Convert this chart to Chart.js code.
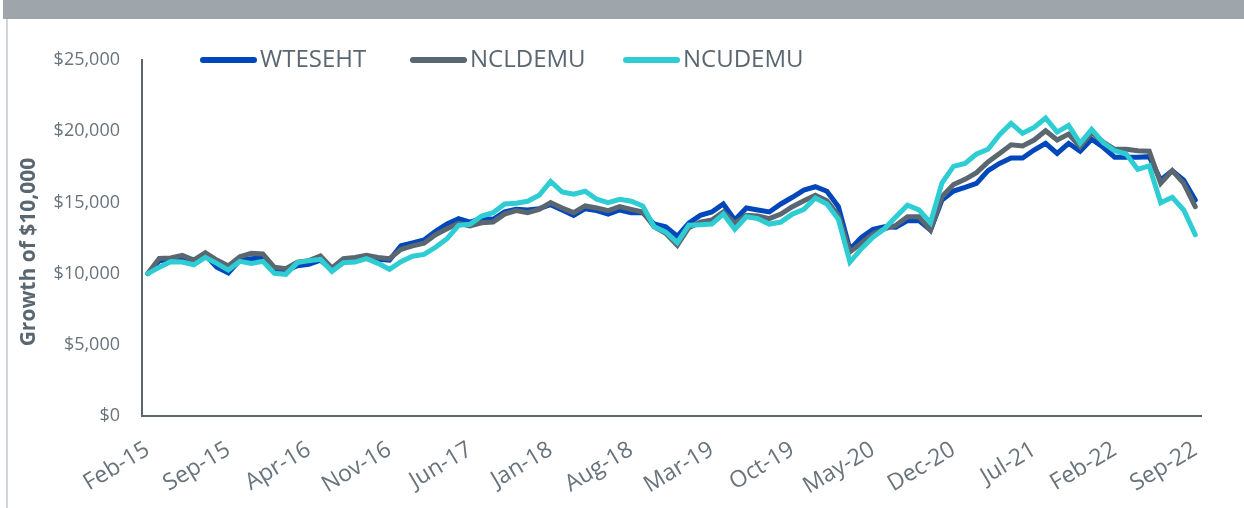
<!DOCTYPE html>
<html><head><meta charset="utf-8">
<script src="https://cdn.jsdelivr.net/npm/chart.js@4/dist/chart.umd.min.js"></script>
<style>html,body{margin:0;padding:0;background:#fff;overflow:hidden}</style>
</head><body>
<canvas id="c" width="1244" height="508"></canvas>
<script>
const months = [
 'Feb-15','Mar-15','Apr-15','May-15','Jun-15','Jul-15','Aug-15','Sep-15','Oct-15','Nov-15','Dec-15',
 'Jan-16','Feb-16','Mar-16','Apr-16','May-16','Jun-16','Jul-16','Aug-16','Sep-16','Oct-16','Nov-16','Dec-16',
 'Jan-17','Feb-17','Mar-17','Apr-17','May-17','Jun-17','Jul-17','Aug-17','Sep-17','Oct-17','Nov-17','Dec-17',
 'Jan-18','Feb-18','Mar-18','Apr-18','May-18','Jun-18','Jul-18','Aug-18','Sep-18','Oct-18','Nov-18','Dec-18',
 'Jan-19','Feb-19','Mar-19','Apr-19','May-19','Jun-19','Jul-19','Aug-19','Sep-19','Oct-19','Nov-19','Dec-19',
 'Jan-20','Feb-20','Mar-20','Apr-20','May-20','Jun-20','Jul-20','Aug-20','Sep-20','Oct-20','Nov-20','Dec-20',
 'Jan-21','Feb-21','Mar-21','Apr-21','May-21','Jun-21','Jul-21','Aug-21','Sep-21','Oct-21','Nov-21','Dec-21',
 'Jan-22','Feb-22','Mar-22','Apr-22','May-22','Jun-22','Jul-22','Aug-22','Sep-22'
];
const tickLabels = ['Feb-15','Sep-15','Apr-16','Nov-16','Jun-17','Jan-18','Aug-18','Mar-19','Oct-19','May-20','Dec-20','Jul-21','Feb-22','Sep-22'];
const yTickValues = [0, 5000, 10000, 15000, 20000, 25000];
const seriesNames = ['WTESEHT', 'NCLDEMU', 'NCUDEMU'];

const wteseht = [
 10000,10900,11000,11150,10900,11300,10450,10050,10950,11050,11100,
 10300,10200,10550,10650,10950,10250,10900,10950,11100,11000,10950,11950,
 12150,12360,12970,13480,13860,13620,13860,13810,14330,14510,14470,14560,
 14840,14470,14090,14560,14420,14180,14470,14280,14280,13480,13290,12620,
 13550,14090,14330,14890,13760,14610,14470,14330,14890,15360,15870,16100,
 15780,14700,11700,12550,13110,13290,13250,13720,13720,13060,15170,15800,
 16060,16340,17230,17740,18120,18120,18680,19150,18440,19150,18590,19430,
 18870,18170,18170,18170,18210,16570,17230,16570,15170
];
const ncldemu = [
 10000,11070,11100,11280,10950,11470,10950,10530,11190,11420,11380,
 10440,10340,10810,10910,11240,10390,11050,11140,11280,11140,11050,11700,
 11950,12130,12730,13150,13530,13340,13570,13620,14180,14420,14280,14510,
 14980,14610,14280,14750,14610,14420,14700,14510,14330,13290,12830,11990,
 13220,13620,13760,14330,13530,14090,14040,13860,14180,14700,15120,15500,
 15120,14090,11520,12130,12780,13150,13390,13990,13990,13060,15400,16250,
 16620,17090,17840,18440,19050,18960,19380,20030,19380,19800,18910,19900,
 19240,18730,18730,18630,18590,16340,17230,16340,14700
];
const ncudemu = [
 10000,10440,10840,10810,10620,11140,10720,10250,10860,10720,10860,
 10020,9950,10770,10910,11000,10160,10770,10810,11050,10720,10300,10840,
 11220,11350,11850,12450,13390,13460,14040,14280,14890,14940,15080,15500,
 16480,15730,15570,15780,15220,14980,15220,15080,14750,13290,12920,12170,
 13400,13430,13480,14180,13110,13990,13860,13480,13620,14180,14510,15310,
 14890,13810,10810,11750,12550,13150,13990,14800,14470,13570,16370,17530,
 17740,18400,18730,19760,20550,19850,20270,20930,19940,20410,19150,20130,
 19190,18630,18400,17320,17560,14980,15360,14470,12730
];

const colors = ['#0047bb', '#5b6770', '#2ecdd4'];
const textGray = '#5b6770';
const tickGray = '#68737c';
const FONT = '"Open Sans", "Noto Sans", sans-serif';

const decorPlugin = {
  id: 'decor',
  beforeDraw(chart) {
    const ctx = chart.ctx;
    ctx.save();
    ctx.fillStyle = '#fff';
    ctx.fillRect(0, 0, chart.width, chart.height);
    ctx.fillStyle = '#9ea5ab';
    ctx.fillRect(3, 0, chart.width - 3, 19);
    ctx.strokeStyle = '#d2d6da';
    ctx.lineWidth = 2;
    ctx.beginPath();
    ctx.moveTo(7, 19);
    ctx.lineTo(7, chart.height);
    ctx.stroke();
    ctx.restore();
  },
  afterDraw(chart) {
    const ctx = chart.ctx;
    ctx.save();
    // y axis title
    ctx.translate(29, 252);
    ctx.rotate(-Math.PI / 2);
    ctx.font = 'bold 21px ' + FONT;
    ctx.fillStyle = textGray;
    ctx.textAlign = 'center';
    ctx.textBaseline = 'middle';
    ctx.fillText('Growth of $10,000', 0, 0);
    ctx.restore();
    // legend
    const starts = [203, 413, 626];
    const ly = 60;
    ctx.save();
    ctx.font = '24px ' + FONT;
    ctx.textBaseline = 'middle';
    ctx.textAlign = 'left';
    chart.data.datasets.forEach((ds, i) => {
      const x = starts[i];
      ctx.strokeStyle = ds.borderColor;
      ctx.lineWidth = 6;
      ctx.lineCap = 'round';
      ctx.beginPath();
      ctx.moveTo(x, ly);
      ctx.lineTo(x + 51, ly);
      ctx.stroke();
      ctx.fillStyle = textGray;
      ctx.fillText(ds.label, x + 57, ly);
    });
    ctx.restore();
  }
};

const seriesData = [wteseht, ncldemu, ncudemu];
new Chart(document.getElementById('c'), {
  type: 'line',
  data: {
    labels: months,
    datasets: seriesNames.map((name, i) => ({
      label: name,
      data: seriesData[i],
      borderColor: colors[i],
      backgroundColor: colors[i],
      borderWidth: 5,
      pointRadius: 0,
      tension: 0,
      fill: false,
      borderCapStyle: 'round',
      borderJoinStyle: 'miter',
      order: 3 - i
    }))
  },
  options: {
    responsive: false,
    devicePixelRatio: 1,
    animation: false,
    layout: { padding: { left: 0, top: 60, right: 43, bottom: 0 } },
    plugins: { legend: { display: false }, tooltip: { enabled: false }, title: { display: false } },
    scales: {
      x: {
        offset: true,
        grid: { display: false, drawTicks: false },
        border: { display: true, color: '#5b6770', width: 2 },
        ticks: {
          autoSkip: false,
          maxRotation: 31,
          minRotation: 31,
          padding: 20,
          color: tickGray,
          font: { family: FONT, size: 23 },
          callback: function (v, i) {
            const l = months[i];
            return tickLabels.includes(l) ? l : null;
          }
        },
        afterFit(scale) { scale.height = 92; }
      },
      y: {
        min: 0,
        max: 25000,
        grid: { display: false, drawTicks: false },
        border: { display: true, color: '#5b6770', width: 2 },
        afterBuildTicks(scale) { scale.ticks = yTickValues.map(v => ({ value: v })); },
        ticks: {
          padding: 22,
          color: tickGray,
          font: { family: FONT, size: 18 },
          callback: v => '$' + v.toLocaleString('en-US')
        },
        afterFit(scale) { scale.width = 142; }
      }
    }
  },
  plugins: [decorPlugin]
});
</script>
</body></html>
